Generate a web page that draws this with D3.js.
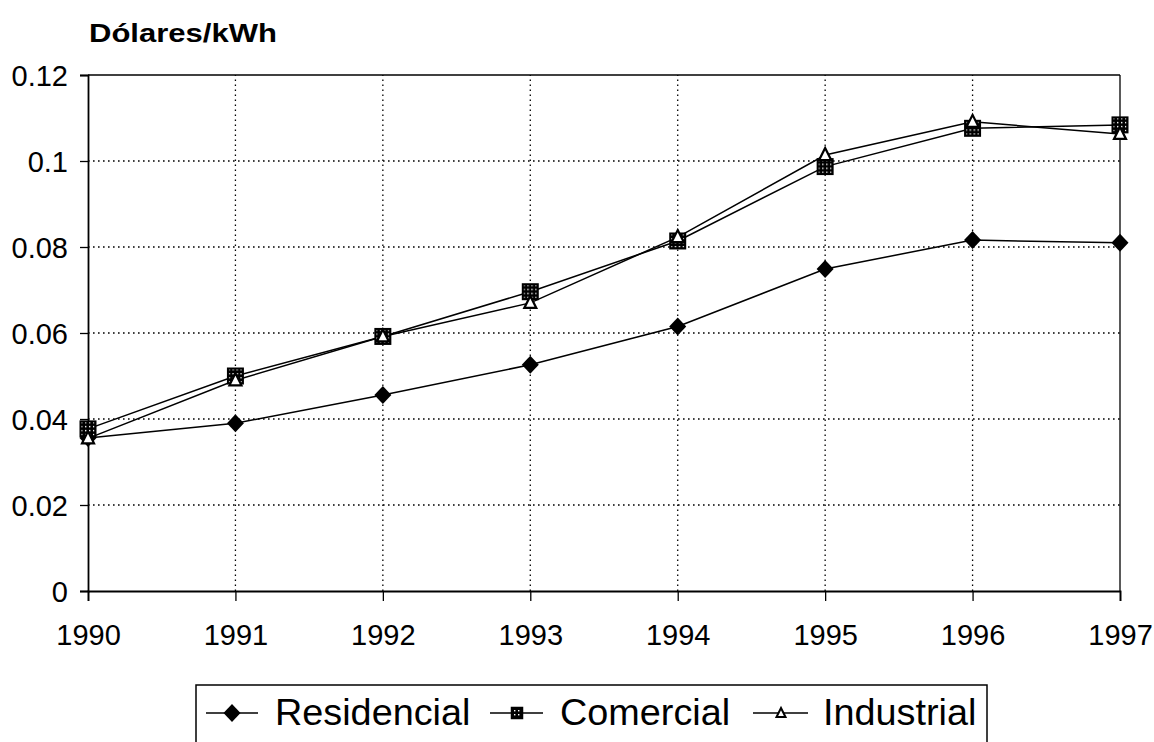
<!DOCTYPE html>
<html>
<head>
<meta charset="utf-8">
<script src="https://cdn.jsdelivr.net/npm/d3@7"></script>
<style>
  html, body { margin: 0; padding: 0; background: #fff; }
  svg { display: block; }
  text { font-family: "Liberation Sans", Arial, sans-serif; fill: #000; }
</style>
</head>
<body>
<svg id="chart" width="1154" height="742"></svg>
<script>
const years = [1990, 1991, 1992, 1993, 1994, 1995, 1996, 1997];
const residencial = [0.0356, 0.0390, 0.0456, 0.0526, 0.0615, 0.0749, 0.0816, 0.0810];
const comercial   = [0.0377, 0.0500, 0.0592, 0.0696, 0.0814, 0.0987, 0.1076, 0.1084];
const industrial  = [0.0355, 0.0490, 0.0592, 0.0670, 0.0823, 0.1014, 0.1091, 0.1063];
const yTicks = [0, 0.02, 0.04, 0.06, 0.08, 0.1, 0.12];
const yTickLabels = ["0", "0.02", "0.04", "0.06", "0.08", "0.1", "0.12"];
const seriesNames = ["Residencial", "Comercial", "Industrial"];
const yTitle = "Dólares/kWh";

const svg = d3.select("#chart");
const x = d3.scalePoint().domain(years).range([88, 1120]);
const y = d3.scaleLinear().domain([0, 0.12]).range([591, 75]);

const defs = svg.append("defs");
const pat = defs.append("pattern").attr("id", "dots").attr("patternUnits", "userSpaceOnUse")
  .attr("width", 4).attr("height", 4);
pat.append("rect").attr("width", 4).attr("height", 4).attr("fill", "#000");
pat.append("rect").attr("x", 1).attr("y", 1).attr("width", 1.4).attr("height", 1.4).attr("fill", "#fff");

function stretch(sel, f) {
  sel.each(function () {
    const w = this.getComputedTextLength();
    d3.select(this).attr("textLength", w * f).attr("lengthAdjust", "spacingAndGlyphs");
  });
}

// gridlines
const g = svg.append("g");
g.selectAll("line.hg").data(yTicks.filter(v => v > 0)).join("line")
  .attr("x1", x(1990)).attr("x2", x(1997))
  .attr("y1", d => y(d)).attr("y2", d => y(d))
  .attr("stroke", "#000").attr("stroke-width", 1.3)
  .attr("stroke-dasharray", d => d === 0.12 ? null : "1.6,3.4");
g.selectAll("line.vg").data(years.slice(1)).join("line")
  .attr("x1", d => x(d)).attr("x2", d => x(d))
  .attr("y1", y(0)).attr("y2", y(0.12))
  .attr("stroke", "#000").attr("stroke-width", 1.3)
  .attr("stroke-dasharray", d => d === 1997 ? null : "1.6,3.4");

// axes
const yAxis = d3.axisLeft(y).tickValues(yTicks).tickFormat((d, i) => yTickLabels[i]).tickSizeOuter(0).tickSize(8).tickPadding(12);
const yg = svg.append("g").attr("transform", `translate(${x(1990)},0)`).call(yAxis);
yg.select(".domain").attr("stroke", "#000").attr("stroke-width", 1.8);
yg.selectAll(".tick line").attr("stroke", "#000").attr("stroke-width", 1.3);
yg.selectAll(".tick text").style("font-size", "29px").style("font-family", "'Liberation Sans', Arial, sans-serif").attr("dy", "0.36em");

const xAxis = d3.axisBottom(x).tickSizeOuter(0).tickSize(10).tickPadding(23);
const xg = svg.append("g").attr("transform", `translate(0,${y(0)})`).call(xAxis);
xg.select(".domain").attr("stroke", "#000").attr("stroke-width", 1.8);
xg.selectAll(".tick line").attr("stroke", "#000").attr("stroke-width", 1.3);
xg.selectAll(".tick text").style("font-size", "29px").style("font-family", "'Liberation Sans', Arial, sans-serif").attr("dy", "0.71em");

// title
svg.append("text").attr("x", 89).attr("y", 42)
  .attr("textLength", 188).attr("lengthAdjust", "spacingAndGlyphs")
  .style("font-size", "26px").style("font-weight", "bold").text(yTitle);

// lines
const lineGen = d3.line().x((d, i) => x(years[i])).y(d => y(d));
const allSeries = [residencial, comercial, industrial];
svg.append("g").selectAll("path").data(allSeries).join("path")
  .attr("d", d => lineGen(d)).attr("fill", "none").attr("stroke", "#000").attr("stroke-width", 1.5);

// markers
const diamondPath = "M0,-9L8.5,0L0,9L-8.5,0Z";
const trianglePath = "M0,-7L6,5L-6,5Z";
function drawDiamond(sel) { sel.append("path").attr("d", diamondPath).attr("fill", "#000"); }
function drawSquare(sel) { sel.append("rect").attr("x", -7.5).attr("y", -7.5).attr("width", 15).attr("height", 15).attr("fill", "url(#dots)").attr("stroke", "#000").attr("stroke-width", 2); }
function drawTriangle(sel) { sel.append("path").attr("d", trianglePath).attr("fill", "#fff").attr("stroke", "#000").attr("stroke-width", 2.2).attr("stroke-linejoin", "miter"); }
const drawers = [drawDiamond, drawSquare, drawTriangle];

allSeries.forEach((s, k) => {
  svg.append("g").selectAll("g").data(s).join("g")
    .attr("transform", (d, i) => `translate(${x(years[i])},${y(d)})`)
    .each(function () { drawers[k](d3.select(this)); });
});

// legend
const leg = svg.append("g");
leg.append("rect").attr("x", 196).attr("y", 685).attr("width", 791).attr("height", 80)
  .attr("fill", "#fff").attr("stroke", "#000").attr("stroke-width", 1.5);
const legItems = [
  { marker: 232, x1: 206, x2: 258, text: 275 },
  { marker: 517, x1: 490, x2: 543, text: 560 },
  { marker: 781, x1: 753, x2: 808, text: 823 }
];
legItems.forEach((it, k) => {
  const gi = leg.append("g");
  gi.append("line").attr("x1", it.x1).attr("x2", it.x2).attr("y1", 713).attr("y2", 713)
    .attr("stroke", "#000").attr("stroke-width", 1.5);
  const m = gi.append("g").attr("transform", `translate(${it.marker},713)`);
  if (k === 0) drawDiamond(m);
  if (k === 1) m.append("rect").attr("x", -5.5).attr("y", -5.5).attr("width", 11).attr("height", 11).attr("fill", "url(#dots)").attr("stroke", "#000").attr("stroke-width", 1.5);
  if (k === 2) m.append("path").attr("d", "M0,-5L4.5,4L-4.5,4Z").attr("fill", "#fff").attr("stroke", "#000").attr("stroke-width", 2);
  gi.append("text").attr("x", it.text).attr("y", 725).style("font-size", "36px").text(seriesNames[k])
    .call(stretch, 1.05);
});
</script>
</body>
</html>
